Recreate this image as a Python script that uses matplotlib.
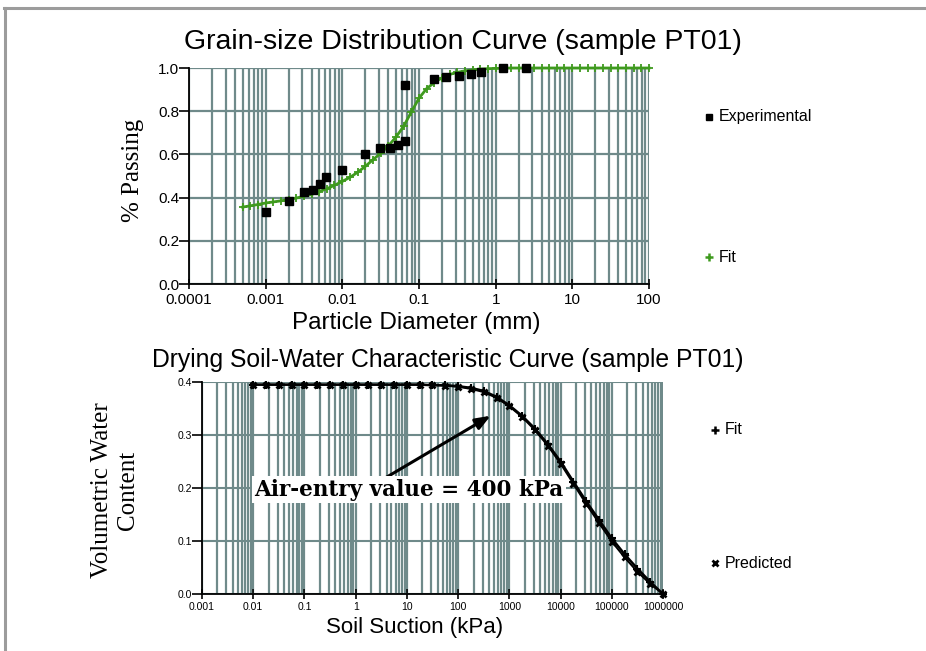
import matplotlib
matplotlib.use("Agg")
import matplotlib.pyplot as plt
from matplotlib.lines import Line2D
from matplotlib.ticker import FixedLocator, LogLocator, NullFormatter, FixedFormatter

# ---------------- data ----------------
# Grain-size distribution
exp_d = [0.001, 0.00204, 0.00313, 0.0041, 0.0051, 0.0062, 0.01, 0.02, 0.031, 0.042,
         0.0525, 0.066, 0.066, 0.158, 0.226, 0.33, 0.47, 0.65, 1.245, 2.5]
exp_p = [0.333, 0.385, 0.426, 0.433, 0.465, 0.497, 0.528, 0.60, 0.629, 0.629,
         0.643, 0.663, 0.919, 0.948, 0.957, 0.963, 0.972, 0.983, 1.0, 1.0]

fit_d = [0.0005, 0.00063, 0.00079, 0.001, 0.00126, 0.00158, 0.002, 0.0025, 0.00316, 0.004,
         0.005, 0.0063, 0.0079, 0.01, 0.0126, 0.0158, 0.02, 0.025, 0.0316, 0.04,
         0.05, 0.063, 0.079, 0.1, 0.126, 0.158, 0.2, 0.25, 0.316, 0.4,
         0.5, 0.63, 0.79, 1.0, 1.26, 1.58, 2.0, 2.5, 3.16, 4.0,
         5.0, 6.3, 7.9, 10.0, 12.6, 15.8, 20.0, 25.0, 31.6, 40.0,
         50.0, 63.0, 79.0, 100.0]
fit_p = [0.356, 0.362, 0.368, 0.375, 0.380, 0.385, 0.391, 0.398, 0.406, 0.415,
         0.428, 0.441, 0.457, 0.475, 0.494, 0.517, 0.545, 0.575, 0.605, 0.640,
         0.680, 0.730, 0.795, 0.860, 0.905, 0.932, 0.955, 0.970, 0.980, 0.987,
         0.992, 0.995, 0.997, 0.998, 0.999, 1.0, 1.0, 1.0, 1.0, 1.0,
         1.0, 1.0, 1.0, 1.0, 1.0, 1.0, 1.0, 1.0, 1.0, 1.0,
         1.0, 1.0, 1.0, 1.0]

# Soil-water characteristic curve
swcc_s = [0.01, 0.0178, 0.0316, 0.0562, 0.1, 0.178, 0.316, 0.562, 1.0, 1.78,
          3.16, 5.62, 10.0, 17.8, 31.6, 56.2, 100.0, 178.0, 316.0, 562.0,
          1000.0, 1780.0, 3160.0, 5620.0, 10000.0, 17800.0, 31600.0, 56200.0,
          100000.0, 178000.0, 316000.0, 562000.0, 1000000.0]
fit_w = [0.395, 0.395, 0.395, 0.395, 0.395, 0.395, 0.395, 0.395, 0.395, 0.395,
         0.395, 0.395, 0.395, 0.395, 0.394, 0.394, 0.392, 0.389, 0.383, 0.372,
         0.356, 0.336, 0.312, 0.283, 0.250, 0.212, 0.175, 0.140,
         0.105, 0.075, 0.048, 0.023, 0.0]
pred_w = [0.395, 0.395, 0.395, 0.395, 0.395, 0.395, 0.395, 0.395, 0.395, 0.395,
          0.395, 0.395, 0.395, 0.395, 0.394, 0.393, 0.391, 0.387, 0.381, 0.370,
          0.354, 0.334, 0.309, 0.280, 0.246, 0.208, 0.170, 0.134,
          0.099, 0.069, 0.042, 0.019, 0.0]

top_xticks = [0.0001, 0.001, 0.01, 0.1, 1, 10, 100]
top_xlabels = ["0.0001", "0.001", "0.01", "0.1", "1", "10", "100"]
top_yticks = [0.0, 0.2, 0.4, 0.6, 0.8, 1.0]
bot_xticks = [0.001, 0.01, 0.1, 1, 10, 100, 1000, 10000, 100000, 1000000]
bot_xlabels = ["0.001", "0.01", "0.1", "1", "10", "100", "1000", "10000", "100000", "1000000"]
bot_yticks = [0.0, 0.1, 0.2, 0.3, 0.4]

# ---------------- style ----------------
SANS = "Liberation Sans"
SERIF = "Liberation Serif"
GRID = "#6f8a8a"
GREEN = "#3f9a1e"
W, H = 926, 651

fig = plt.figure(figsize=(W / 100, H / 100), dpi=100)
fig.patch.set_facecolor("white")

def fx(px):
    return px / W

def fy(py):
    return 1 - py / H

# border (top and left)
fig.add_artist(Line2D([fx(4), 1.0], [fy(8), fy(8)], color="#9c9c9c", lw=2.2))
fig.add_artist(Line2D([fx(5), fx(5)], [fy(8), 0.0], color="#9c9c9c", lw=2.2))

# ---------------- top chart ----------------
ax1 = fig.add_axes([fx(189), fy(284), fx(649) - fx(189), fy(68) - fy(284)])
ax1.set_xscale("log")
ax1.set_xlim(0.0001, 100)
ax1.set_ylim(0, 1.0)
for s in ["top", "right"]:
    ax1.spines[s].set_visible(False)
ax1.spines["left"].set_linewidth(1.3)
ax1.spines["bottom"].set_linewidth(1.3)
ax1.xaxis.set_major_locator(FixedLocator(top_xticks))
ax1.xaxis.set_major_formatter(FixedFormatter(top_xlabels))
ax1.xaxis.set_minor_locator(LogLocator(base=10, subs=range(2, 10), numticks=20))
ax1.xaxis.set_minor_formatter(NullFormatter())
ax1.yaxis.set_major_locator(FixedLocator(top_yticks))
ax1.set_yticklabels(["%.1f" % v for v in top_yticks])
ax1.grid(True, which="both", axis="x", color=GRID, lw=1.6, zorder=0)
ax1.grid(True, which="major", axis="y", color=GRID, lw=1.6, zorder=0)
ax1.set_axisbelow(True)
ax1.tick_params(axis="x", which="major", direction="inout", length=7, width=1.2,
                labelsize=11, pad=3)
ax1.tick_params(axis="x", which="minor", length=0)
ax1.tick_params(axis="y", which="major", direction="out", length=7, width=1.2,
                labelsize=11, pad=0)
for lab in ax1.get_xticklabels() + ax1.get_yticklabels():
    lab.set_fontfamily(SANS)

ax1.plot(fit_d, fit_p, color=GREEN, lw=2, marker="+", ms=6, mew=1.3, zorder=3,
         clip_on=False)
ax1.plot(exp_d, exp_p, ls="none", marker="s", ms=5.5, color="black", zorder=4,
         clip_on=False)

fig.text(fx(463), fy(42), "Grain-size Distribution Curve (sample PT01)", ha="center",
         va="center", fontsize=20.5, family=SANS)
fig.text(fx(416), fy(323), "Particle Diameter (mm)", ha="center", va="center",
         fontsize=17.5, family=SANS)
fig.text(fx(133), fy(170), "% Passing", ha="center", va="center", rotation=90,
         fontsize=18, family=SERIF)

# legend entries
fig.add_artist(Line2D([fx(709)], [fy(117)], marker="s", ms=5, color="black", ls="none"))
fig.text(fx(719), fy(117), "Experimental", ha="left", va="center", fontsize=11.5, family=SANS)
fig.add_artist(Line2D([fx(709)], [fy(257)], marker="+", ms=6, mew=1.8, color=GREEN, ls="none"))
fig.text(fx(719), fy(257), "Fit", ha="left", va="center", fontsize=11.5, family=SANS)

# ---------------- bottom chart ----------------
ax2 = fig.add_axes([fx(202), fy(594), fx(663) - fx(202), fy(382) - fy(594)])
ax2.set_xscale("log")
ax2.set_xlim(0.001, 1000000)
ax2.set_ylim(0, 0.4)
for s in ["top", "right"]:
    ax2.spines[s].set_visible(False)
ax2.spines["left"].set_linewidth(1.3)
ax2.spines["bottom"].set_linewidth(1.3)
ax2.xaxis.set_major_locator(FixedLocator(bot_xticks))
ax2.xaxis.set_major_formatter(FixedFormatter(bot_xlabels))
ax2.xaxis.set_minor_locator(LogLocator(base=10, subs=range(2, 10), numticks=30))
ax2.xaxis.set_minor_formatter(NullFormatter())
ax2.yaxis.set_major_locator(FixedLocator(bot_yticks))
ax2.set_yticklabels(["%.1f" % v for v in bot_yticks])
ax2.grid(True, which="both", axis="x", color=GRID, lw=1.6, zorder=0)
ax2.grid(True, which="major", axis="y", color=GRID, lw=1.5, zorder=0)
ax2.set_axisbelow(True)
ax2.tick_params(axis="x", which="major", direction="inout", length=7, width=1.2,
                labelsize=7.5, pad=2)
ax2.tick_params(axis="x", which="minor", length=0)
ax2.tick_params(axis="y", which="major", direction="out", length=7, width=1.2,
                labelsize=7.5, pad=0)
for lab in ax2.get_xticklabels() + ax2.get_yticklabels():
    lab.set_fontfamily(SANS)

ax2.plot(swcc_s, pred_w, color="black", lw=1.4, marker="x", ms=5, mew=2, zorder=3,
         clip_on=False)
ax2.plot(swcc_s, fit_w, color="black", lw=1.8, marker="+", ms=6, mew=1.5, zorder=4,
         clip_on=False)

ax2.annotate("", xy=(480, 0.339), xytext=(3.5, 0.217),
             arrowprops=dict(arrowstyle="-|>,head_length=0.9,head_width=0.35",
                             color="black", lw=2.2), zorder=6)
ax2.text(0.0105, 0.197, "Air-entry value = 400 kPa", ha="left", va="center",
         fontsize=15.5, family="DejaVu Serif", fontweight="bold", zorder=7,
         bbox=dict(facecolor="white", edgecolor="none", pad=1.5))

fig.text(fx(448), fy(360), "Drying Soil-Water Characteristic Curve (sample PT01)",
         ha="center", va="center", fontsize=17.8, family=SANS)
fig.text(fx(415), fy(627), "Soil Suction (kPa)", ha="center", va="center",
         fontsize=16, family=SANS)
fig.text(fx(115), fy(490), "Volumetric Water\nContent", ha="center", va="center",
         rotation=90, fontsize=18, family=SERIF, linespacing=1.25)

fig.add_artist(Line2D([fx(715)], [fy(430)], marker="+", ms=6, mew=1.8, color="black", ls="none"))
fig.text(fx(725), fy(430), "Fit", ha="left", va="center", fontsize=11.5, family=SANS)
fig.add_artist(Line2D([fx(715)], [fy(563)], marker="x", ms=5, mew=2, color="black", ls="none"))
fig.text(fx(725), fy(563), "Predicted", ha="left", va="center", fontsize=11.5, family=SANS)

fig.savefig("out.png", dpi=100, facecolor="white")
